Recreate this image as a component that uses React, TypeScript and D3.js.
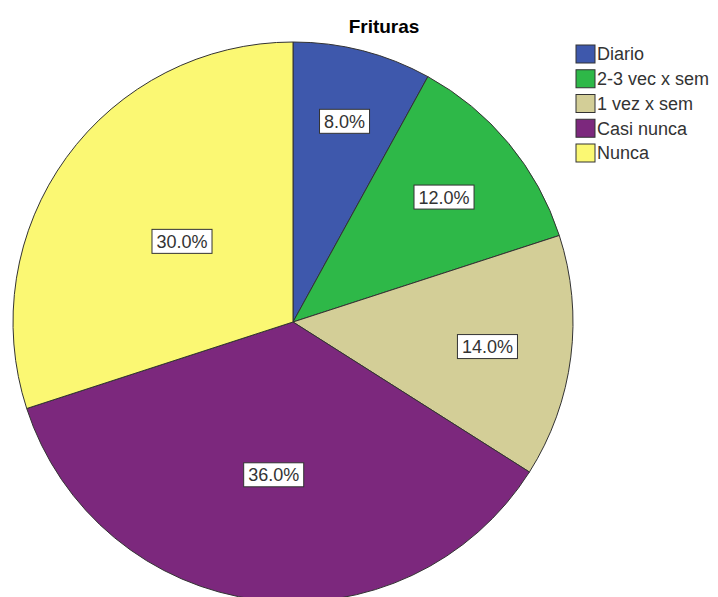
import React from "react";
import * as d3 from "d3";

const categories = ["Diario", "2-3 vec x sem", "1 vez x sem", "Casi nunca", "Nunca"];
const values = [8.0, 12.0, 14.0, 36.0, 30.0];
const colors = ["#3E58AC", "#2EB848", "#D3CE97", "#7C287D", "#FBF873"];
const title = "Frituras";

// label placement radius fraction per slice (style)
const labelRadiusFrac = [0.74, 0.7, 0.7, 0.55, 0.49];

const W = 718;
const H = 597;
const cx = 293;
const cy = 322;
const R = 280;

export default function App() {
  const pie = d3.pie<number>().sort(null).value((d) => d).startAngle(0).endAngle(2 * Math.PI);
  const arcs = pie(values);
  const arc = d3.arc<d3.PieArcDatum<number>>().innerRadius(0).outerRadius(R);
  const font = "Arial, 'Liberation Sans', sans-serif";
  const fs = 18;
  const charW = (s: string) => {
    let w = 0;
    for (const c of s) {
      if (c === ".") w += 0.278;
      else if (c === "%") w += 0.889;
      else w += 0.556;
    }
    return w * fs;
  };
  return (
    <svg width={W} height={H} style={{ position: "absolute", left: 0, top: 0 }} fontFamily={font}>
      <rect x={0} y={0} width={W} height={H} fill="#fff" />
      <g transform={`translate(${cx},${cy})`}>
        {arcs.map((a, i) => (
          <path key={i} d={arc(a) || ""} fill={colors[i]} stroke="#333" strokeWidth={1} />
        ))}
        {arcs.map((a, i) => {
          const mid = (a.startAngle + a.endAngle) / 2;
          const r = R * labelRadiusFrac[i];
          const x = Math.sin(mid) * r;
          const y = -Math.cos(mid) * r;
          const label = `${values[i].toFixed(1)}%`;
          const tw = charW(label);
          const bw = tw + 9;
          const bh = 24;
          return (
            <g key={"l" + i} transform={`translate(${x},${y})`}>
              <rect x={-bw / 2} y={-bh / 2} width={bw} height={bh} fill="#fff" stroke="#333" strokeWidth={1} />
              <text x={0} y={0} dy="0.36em" textAnchor="middle" fontSize={fs} fill="#333">
                {label}
              </text>
            </g>
          );
        })}
      </g>
      <text x={384} y={33} textAnchor="middle" fontSize={19} fontWeight="bold" fill="#000">
        {title}
      </text>
      <g transform="translate(576,45)">
        {categories.map((c, i) => (
          <g key={c} transform={`translate(0,${i * 24.75})`}>
            <rect x={0} y={0} width={19} height={18} fill={colors[i]} stroke="#333" strokeWidth={1} />
            <text x={21} y={9} dy="0.36em" fontSize={18} fill="#333">
              {c}
            </text>
          </g>
        ))}
      </g>
    </svg>
  );
}
